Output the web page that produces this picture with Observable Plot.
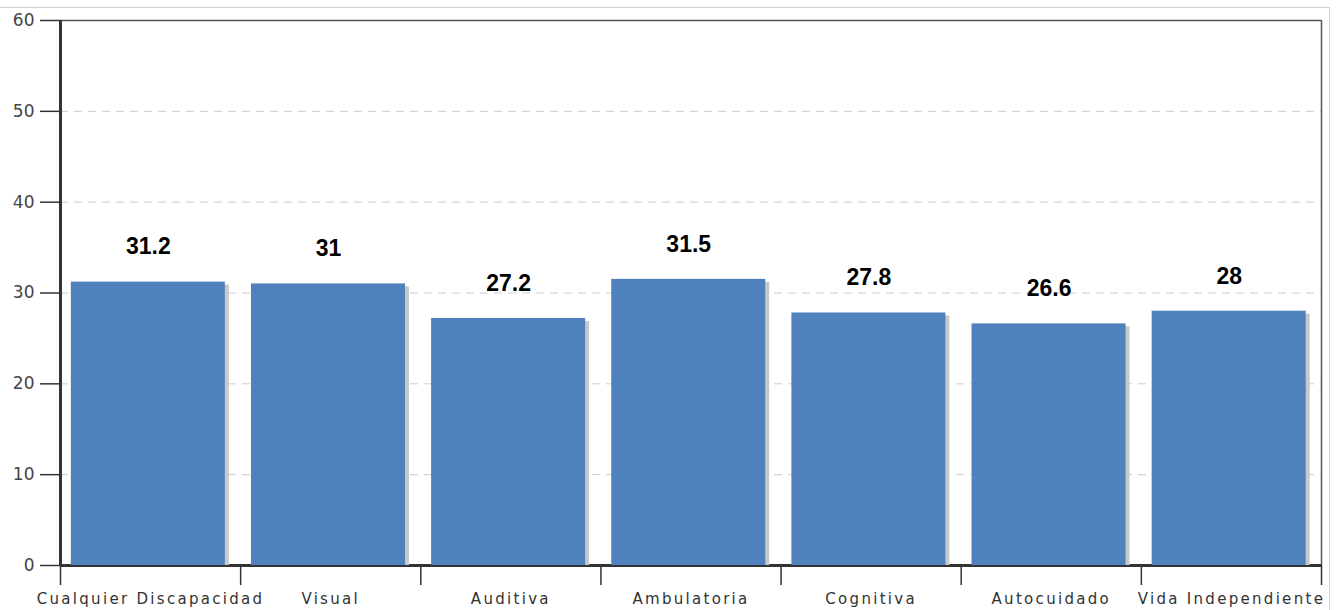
<!DOCTYPE html>
<html>
<head>
<meta charset="utf-8">
<script src="https://cdn.jsdelivr.net/npm/d3@7"></script>
<script src="https://cdn.jsdelivr.net/npm/@observablehq/plot@0.6"></script>
<style>
  html, body { margin: 0; padding: 0; background: #fff; }
  #wrap { position: relative; width: 1341px; height: 610px; overflow: hidden; }
  #box { position: absolute; left: -2px; top: 7px; width: 1332px; height: 700px; border: 1px solid #d0d0d0; box-sizing: border-box; }
  #chart { position: absolute; left: 0; top: 0; }
</style>
</head>
<body>
<div id="wrap"><div id="box"></div><div id="chart"></div></div>
<script>
const categories = ["Cualquier Discapacidad", "Visual", "Auditiva", "Ambulatoria", "Cognitiva", "Autocuidado", "Vida Independiente"];
const values = [31.2, 31, 27.2, 31.5, 27.8, 26.6, 28];
const yTicks = [0, 10, 20, 30, 40, 50, 60];

const data = categories.map((c, i) => ({category: c, value: values[i], i}));
const padL = 0.06, padR = 0.915;

const plot = Plot.plot({
  width: 1341,
  height: 610,
  marginLeft: 60,
  marginRight: 20,
  marginTop: 20,
  marginBottom: 45,
  style: {fontFamily: "DejaVu Sans", background: "transparent", overflow: "visible"},
  x: {domain: [0, categories.length], axis: null},
  y: {domain: [0, 60], axis: null},
  marks: [
    Plot.gridY(yTicks, {stroke: "#c8cdd2", strokeOpacity: 1, strokeDasharray: "8,6"}),
    Plot.axisY(yTicks, {label: null, tickSize: 20, tickPadding: 6, fontSize: 17, color: "#444", stroke: "#333", strokeWidth: 1.5}),
    Plot.axisX(d3.range(categories.length + 1), {anchor: "bottom", label: null, tickSize: 20, tickFormat: () => "", stroke: "#333", strokeWidth: 1.5}),
    Plot.ruleY([60], {stroke: "#555", strokeWidth: 1.5}),
    Plot.ruleX([categories.length], {stroke: "#555", strokeWidth: 1.5}),
    Plot.ruleY([0], {stroke: "#333", strokeWidth: 3}),
    Plot.rectY(data, {x1: d => d.i + padL, x2: d => d.i + padR, y1: 0, y2: "value", fill: "#c8c8c8", dx: 4, insetTop: 3}),
    Plot.rectY(data, {x1: d => d.i + padL, x2: d => d.i + padR, y1: 0, y2: "value", fill: "#4f81bd"}),
    Plot.ruleX([0], {stroke: "#333", strokeWidth: 3}),
    Plot.text(data, {x: d => d.i + (padL + padR) / 2, y: "value", text: d => String(d.value), dy: -35, fontSize: 23, fontWeight: "bold", fill: "#000", fontFamily: "Liberation Sans"}),
    Plot.text(data, {x: d => d.i + 0.5, y: 0, text: "category", dy: 34, fontSize: 15, fill: "#333"})
  ]
});
const textGroups = d3.select(plot).selectAll('g[aria-label="text"]').nodes();
d3.select(textGroups[textGroups.length - 1]).selectAll("text").style("letter-spacing", "2.3px");
document.getElementById("chart").appendChild(plot);
</script>
</body>
</html>
